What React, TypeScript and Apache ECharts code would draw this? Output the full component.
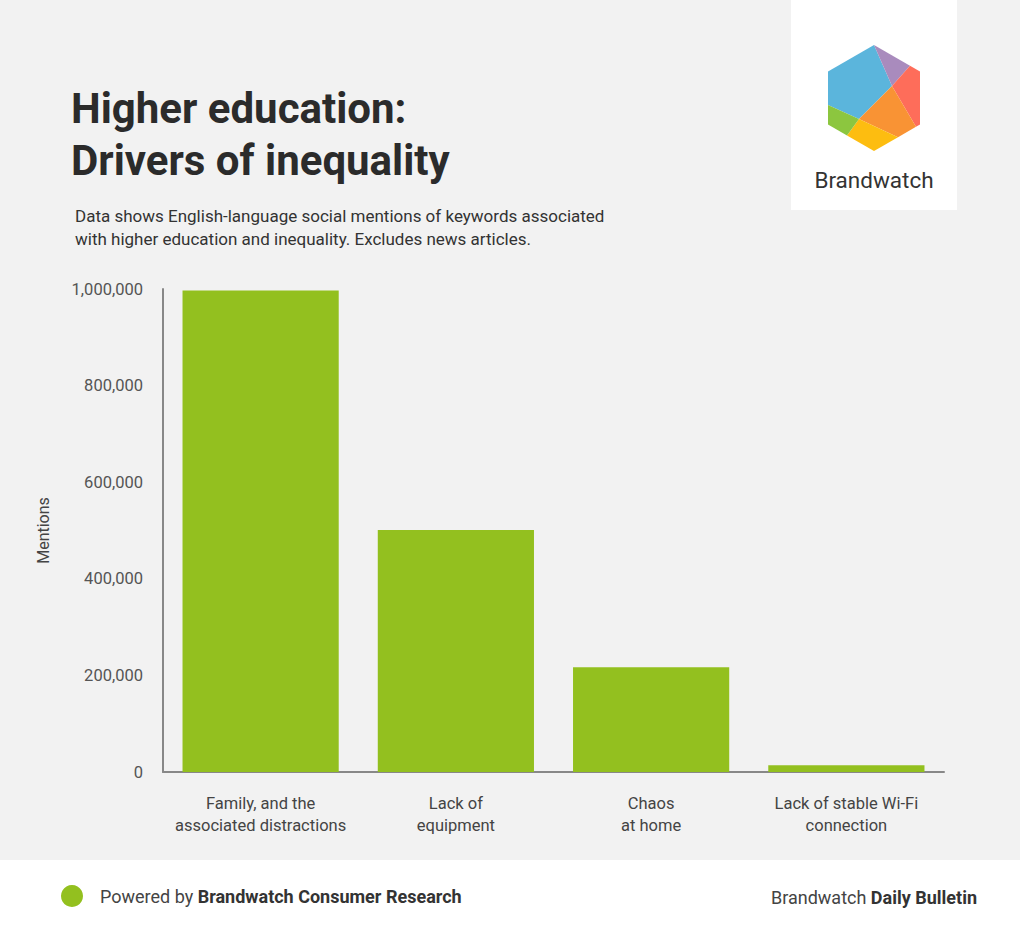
import React, { useEffect, useRef } from "react";
import * as echarts from "echarts";

const categories = [
  "Family, and the\nassociated distractions",
  "Lack of\nequipment",
  "Chaos\nat home",
  "Lack of stable Wi-Fi\nconnection",
];
const mentions = [997000, 501000, 217000, 14000];
const yTicks = { min: 0, max: 1000000, interval: 200000 };

const FONT = "Roboto, 'Noto Sans', sans-serif";

function fmt(v: number) {
  return String(v).replace(/\B(?=(\d{3})+(?!\d))/g, ",");
}

export default function App() {
  const ref = useRef<HTMLDivElement>(null);
  useEffect(() => {
    document.body.style.margin = "0";
    if (!ref.current) return;
    const chart = echarts.init(ref.current, null, { renderer: "svg" });
    const T = [874, 45], UR = [920, 71.5], LR = [920, 124.5], B = [874, 151], LL = [828, 124.5], UL = [828, 71.5];
    const P1 = [892, 86], P2 = [859, 119];
    const Epr = [910, 65.7], Ero = [916, 126.8], Eoy = [898, 137.2], Eyg = [847, 135.4], Egb = [828, 105];
    const poly = (pts: number[][], fill: string) => ({
      type: "polygon",
      shape: { points: pts },
      style: { fill },
      silent: true,
    });
    chart.setOption({
      animation: false,
      backgroundColor: "#f2f2f2",
      textStyle: { fontFamily: FONT },
      grid: { left: 163, right: 76, top: 289, bottom: 164, containLabel: false },
      xAxis: {
        type: "category",
        data: categories,
        axisLine: { show: true, lineStyle: { color: "#888", width: 2 } },
        axisTick: { show: false },
        axisLabel: { color: "#444", fontSize: 16.5, lineHeight: 22, margin: 20, fontFamily: FONT, interval: 0 },
      },
      yAxis: {
        type: "value",
        min: yTicks.min,
        max: yTicks.max,
        interval: yTicks.interval,
        name: "Mentions",
        nameLocation: "middle",
        nameGap: 112,
        nameTextStyle: { color: "#444", fontSize: 16, fontFamily: FONT },
        axisLine: { show: true, lineStyle: { color: "#888", width: 2 } },
        axisTick: { show: false },
        splitLine: { show: false },
        axisLabel: { color: "#555", fontSize: 16.5, margin: 20, fontFamily: FONT, formatter: (v: number) => fmt(v) },
      },
      series: [
        {
          type: "bar",
          data: mentions,
          barCategoryGap: "20%",
          itemStyle: { color: "#93c01f" },
        },
      ],
      graphic: [
        { type: "rect", shape: { x: 0, y: 860, width: 1020, height: 76 }, style: { fill: "#ffffff" }, silent: true },
        { type: "rect", shape: { x: 791, y: 0, width: 166, height: 210 }, style: { fill: "#ffffff" }, silent: true },
        poly([T, P1, P2, Egb, UL], "#5bb5dc"),
        poly([T, Epr, P1], "#a98bbd"),
        poly([Epr, UR, LR, Ero, P1], "#fe6d5a"),
        poly([P1, Ero, Eoy, P2], "#f99334"),
        poly([P2, Eoy, B, Eyg], "#fdbd10"),
        poly([P2, Eyg, LL, Egb], "#8cc63f"),
        {
          type: "text",
          x: 874, y: 180,
          style: { text: "Brandwatch", fontSize: 22.5, fill: "#333", fontFamily: FONT, align: "center", verticalAlign: "middle" },
        },
        {
          type: "text",
          x: 71, y: 82,
          style: { text: "Higher education:\nDrivers of inequality", fontSize: 42, lineHeight: 52, fontWeight: "bold", fill: "#2b2b2b", fontFamily: FONT },
        },
        {
          type: "text",
          x: 75, y: 204,
          style: { text: "Data shows English-language social mentions of keywords associated\nwith higher education and inequality. Excludes news articles.", fontSize: 17, lineHeight: 23, fill: "#333", fontFamily: FONT },
        },
        { type: "circle", shape: { cx: 72, cy: 896, r: 11 }, style: { fill: "#93c01f" }, silent: true },
        {
          type: "text",
          x: 100, y: 896,
          style: {
            text: "{n|Powered by }{b|Brandwatch Consumer Research}",
            verticalAlign: "middle",
            rich: {
              n: { fontSize: 18, fill: "#444", fontFamily: FONT },
              b: { fontSize: 18, fill: "#333", fontWeight: "bold", fontFamily: FONT },
            },
          },
        },
        {
          type: "text",
          x: 977, y: 897,
          style: {
            text: "{n|Brandwatch }{b|Daily Bulletin}",
            align: "right",
            verticalAlign: "middle",
            rich: {
              n: { fontSize: 18, fill: "#444", fontFamily: FONT },
              b: { fontSize: 18, fill: "#333", fontWeight: "bold", fontFamily: FONT },
            },
          },
        },
      ],
    });
    return () => chart.dispose();
  }, []);
  return <div ref={ref} style={{ width: 1020, height: 936 }} />;
}
